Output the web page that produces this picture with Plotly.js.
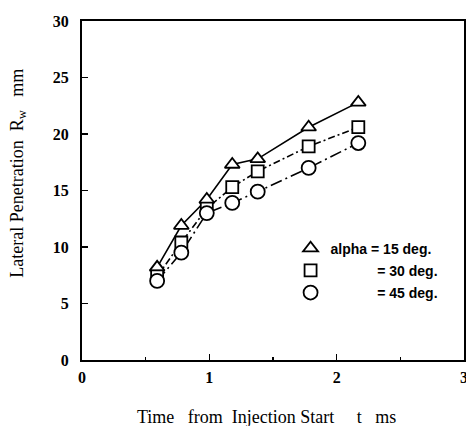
<!DOCTYPE html>
<html><head><meta charset="utf-8">
<script src="https://cdn.plot.ly/plotly-3.0.1.min.js"></script>
<style>html,body{margin:0;padding:0;background:#fff;}#chart{width:466px;height:426px;}</style>
</head><body><div id="chart"></div>
<script>
var timeMs = [0.59, 0.78, 0.98, 1.18, 1.38, 1.78, 2.17];
var alpha15 = [8.2, 11.9, 14.2, 17.3, 17.8, 20.6, 22.8];
var alpha30 = [7.4, 10.4, 13.4, 15.3, 16.7, 18.9, 20.6];
var alpha45 = [7.0, 9.5, 13.0, 13.9, 14.9, 17.0, 19.2];
var seriesNames = ['alpha = 15 deg.', '= 30 deg.', '= 45 deg.'];
var xTicks = [0, 1, 2, 3];
var yTicks = [0, 5, 10, 15, 20, 25, 30];

function nb(n) { return '\u00a0'.repeat(n); }
var data = [
  {x: timeMs, y: alpha15, mode: 'lines', line: {color: '#000', width: 1.6, dash: 'solid'}, showlegend: false, hoverinfo: 'skip'},
  {x: timeMs, y: alpha30, mode: 'lines', line: {color: '#000', width: 1.6, dash: '7px,3px,2px,3px'}, showlegend: false, hoverinfo: 'skip'},
  {x: timeMs, y: alpha45, mode: 'lines', line: {color: '#000', width: 1.6, dash: '12px,4px,2px,4px'}, showlegend: false, hoverinfo: 'skip'},
  {x: timeMs, y: alpha15, mode: 'markers', name: seriesNames[0], legendgroup: 'a',
   marker: {symbol: 'triangle-up', size: 13, color: '#fff', line: {color: '#000', width: 1.8}}},
  {x: timeMs, y: alpha30, mode: 'markers', name: nb(12) + seriesNames[1], legendgroup: 'b',
   marker: {symbol: 'square', size: 12, color: '#fff', line: {color: '#000', width: 1.8}}},
  {x: timeMs, y: alpha45, mode: 'markers', name: nb(12) + seriesNames[2], legendgroup: 'c',
   marker: {symbol: 'circle', size: 14, color: '#fff', line: {color: '#000', width: 1.8}}}
];

var tickFont = {family: 'Liberation Serif', size: 16, color: '#000', weight: 'bold'};
var layout = {
  width: 466, height: 426,
  margin: {l: 82, r: 2, t: 21, b: 66},
  paper_bgcolor: '#fff', plot_bgcolor: '#fff',
  showlegend: true,
  legend: {x: 0.546, y: 0.376, xanchor: 'left', yanchor: 'top', bgcolor: 'rgba(0,0,0,0)',
           font: {family: 'Liberation Sans', size: 14, color: '#000', weight: 'bold'},
           tracegroupgap: 1},
  xaxis: {range: [0, 3], tickvals: xTicks, ticktext: xTicks.map(String), ticks: 'inside', ticklen: 6, tickwidth: 1.5,
          tickcolor: '#000', showline: true, linecolor: '#000', linewidth: 2, mirror: true,
          showgrid: false, zeroline: false, tickfont: tickFont, ticklabelstandoff: 2, ticklabeloverflow: 'allow',
          minor: {dtick: 0.5, tick0: 0, ticks: 'inside', ticklen: 3, tickwidth: 1.2, tickcolor: '#000', showgrid: false}},
  yaxis: {range: [0, 30], tickvals: yTicks, ticktext: yTicks.map(String), ticks: 'inside', ticklen: 6, tickwidth: 1.5,
          tickcolor: '#000', showline: true, linecolor: '#000', linewidth: 2, mirror: true,
          showgrid: false, zeroline: false, tickfont: tickFont, ticklabelstandoff: 8, ticklabeloverflow: 'allow'},
  annotations: [
    {text: 'Time' + nb(3) + 'from' + nb(2) + 'Injection Start' + nb(5) + 't' + nb(3) + 'ms', xref: 'paper', yref: 'paper',
     x: 0.484, y: -0.168, xanchor: 'center', yanchor: 'middle', showarrow: false,
     font: {family: 'Liberation Serif', size: 18, color: '#000'}},
    {text: 'Lateral Penetration' + nb(2) + 'R<sub>w</sub>' + nb(3) + 'mm', xref: 'paper', yref: 'paper',
     x: -0.167, y: 0.55, xanchor: 'center', yanchor: 'middle', textangle: -90, showarrow: false,
     font: {family: 'Liberation Serif', size: 18, color: '#000'}}
  ]
};
Plotly.newPlot('chart', data, layout, {displayModeBar: false, staticPlot: true});
</script></body></html>
